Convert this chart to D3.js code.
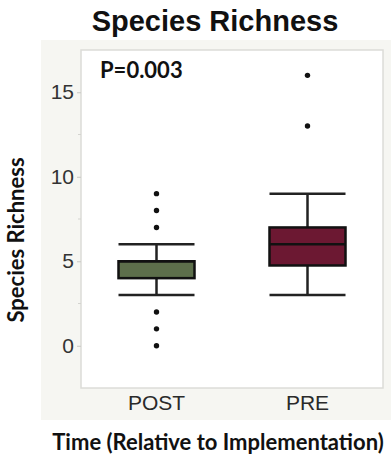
<!DOCTYPE html>
<html>
<head>
<meta charset="utf-8">
<script src="https://cdn.jsdelivr.net/npm/d3@7"></script>
<style>
  body { margin: 0; background: #fff; }
  svg { display: block; }
</style>
</head>
<body>
<div id="chart"></div>
<script>
// groups and their box summaries
var groups = ['POST', 'PRE'];
var q1 = [4, 4.75];
var medians = [5, 6];
var q3 = [5, 7];
var whiskerLow = [3, 3];
var whiskerHigh = [6, 9];
var outliers = [[0, 1, 2, 7, 8, 9], [13, 16]];
var boxColors = ['#5d6f4b', '#6c1832'];
var yTicks = [0, 5, 10, 15];
var yMinorTicks = [2.5, 7.5, 12.5];

var width = 391, height = 457;
var plot = { left: 81, right: 383, top: 50, bottom: 388 };

var svg = d3.select('#chart').append('svg')
    .attr('width', width)
    .attr('height', height);

// light grey panel behind the plot
svg.append('rect')
    .attr('x', 41).attr('y', 40)
    .attr('width', width - 41).attr('height', 380)
    .attr('fill', '#f6f6f2');

svg.append('rect')
    .attr('x', plot.left).attr('y', plot.top)
    .attr('width', plot.right - plot.left).attr('height', plot.bottom - plot.top)
    .attr('fill', '#fff')
    .attr('stroke', '#dcdcd8')
    .attr('stroke-width', 1.5);

var x = d3.scaleBand()
    .domain(groups)
    .range([plot.left, plot.right])
    .padding(0);

var y = d3.scaleLinear()
    .domain([-2.5, 17.5])
    .range([plot.bottom, plot.top]);

// y axis
var yAxis = svg.append('g')
    .attr('transform', 'translate(' + plot.left + ',0)')
    .call(d3.axisLeft(y).tickValues(yTicks).tickSize(4).tickPadding(3));
yAxis.select('.domain').remove();
yAxis.selectAll('.tick line').attr('stroke', '#c8c8c4');
yAxis.selectAll('text')
    .attr('fill', '#333')
    .style('font-family', '"Liberation Sans", Arial, sans-serif')
    .style('font-size', '21px');

svg.append('g')
    .selectAll('line')
    .data(yMinorTicks)
    .enter()
    .append('line')
    .attr('x1', plot.left - 3).attr('x2', plot.left)
    .attr('y1', function(d) { return y(d); })
    .attr('y2', function(d) { return y(d); })
    .attr('stroke', '#d4d4d0');

// x axis labels
var xAxis = svg.append('g')
    .attr('transform', 'translate(0,' + plot.bottom + ')')
    .call(d3.axisBottom(x).tickSize(0).tickPadding(7));
xAxis.select('.domain').remove();
xAxis.selectAll('text')
    .attr('fill', '#2a2a2a')
    .style('font-family', '"Liberation Sans", Arial, sans-serif')
    .style('font-size', '21px');

// boxes
var boxW = 76;
var stats = groups.map(function(g, i) {
    return { g: g, q1: q1[i], med: medians[i], q3: q3[i], lo: whiskerLow[i], hi: whiskerHigh[i], color: boxColors[i] };
});

var box = svg.selectAll('.box')
    .data(stats)
    .enter()
    .append('g')
    .attr('class', 'box');

function cx(d) { return x(d.g) + x.bandwidth() / 2; }

box.append('line')
    .attr('x1', cx).attr('x2', cx)
    .attr('y1', function(d) { return y(d.hi); })
    .attr('y2', function(d) { return y(d.lo); })
    .attr('stroke', '#222').attr('stroke-width', 2.5);

['lo', 'hi'].forEach(function(k) {
    box.append('line')
        .attr('x1', function(d) { return cx(d) - boxW / 2; })
        .attr('x2', function(d) { return cx(d) + boxW / 2; })
        .attr('y1', function(d) { return y(d[k]); })
        .attr('y2', function(d) { return y(d[k]); })
        .attr('stroke', '#222').attr('stroke-width', 2.5);
});

box.append('rect')
    .attr('x', function(d) { return cx(d) - boxW / 2; })
    .attr('y', function(d) { return y(d.q3); })
    .attr('width', boxW)
    .attr('height', function(d) { return y(d.q1) - y(d.q3); })
    .attr('fill', function(d) { return d.color; })
    .attr('stroke', '#111').attr('stroke-width', 2.5);

box.append('line')
    .attr('x1', function(d) { return cx(d) - boxW / 2; })
    .attr('x2', function(d) { return cx(d) + boxW / 2; })
    .attr('y1', function(d) { return y(d.med); })
    .attr('y2', function(d) { return y(d.med); })
    .attr('stroke', '#111').attr('stroke-width', 2.5);

// outlier dots
groups.forEach(function(g, i) {
    svg.selectAll('.out-' + i)
        .data(outliers[i])
        .enter()
        .append('circle')
        .attr('class', 'out-' + i)
        .attr('cx', x(g) + x.bandwidth() / 2)
        .attr('cy', function(d) { return y(d); })
        .attr('r', 2.7)
        .attr('fill', '#111');
});

// texts
svg.append('text')
    .attr('x', 215).attr('y', 31)
    .attr('text-anchor', 'middle')
    .style('font-family', '"Liberation Sans", Arial, sans-serif')
    .style('font-weight', 'bold')
    .style('font-size', '29px')
    .attr('fill', '#111')
    .text('Species Richness');

svg.append('text')
    .attr('x', 100).attr('y', 78)
    .style('font-family', 'Lato, "Open Sans", sans-serif')
    .style('font-weight', 'bold')
    .style('font-size', '22px')
    .attr('fill', '#111')
    .text('P=0.003');

svg.append('text')
    .attr('x', 218).attr('y', 450)
    .attr('text-anchor', 'middle')
    .style('font-family', 'Lato, "Open Sans", sans-serif')
    .style('font-weight', 'bold')
    .style('font-size', '22px')
    .attr('fill', '#111')
    .text('Time (Relative to Implementation)');

svg.append('text')
    .attr('transform', 'translate(24,240) rotate(-90)')
    .attr('text-anchor', 'middle')
    .style('font-family', 'Lato, "Open Sans", sans-serif')
    .style('font-weight', 'bold')
    .style('font-size', '22px')
    .attr('fill', '#111')
    .text('Species Richness');
</script>
</body>
</html>
